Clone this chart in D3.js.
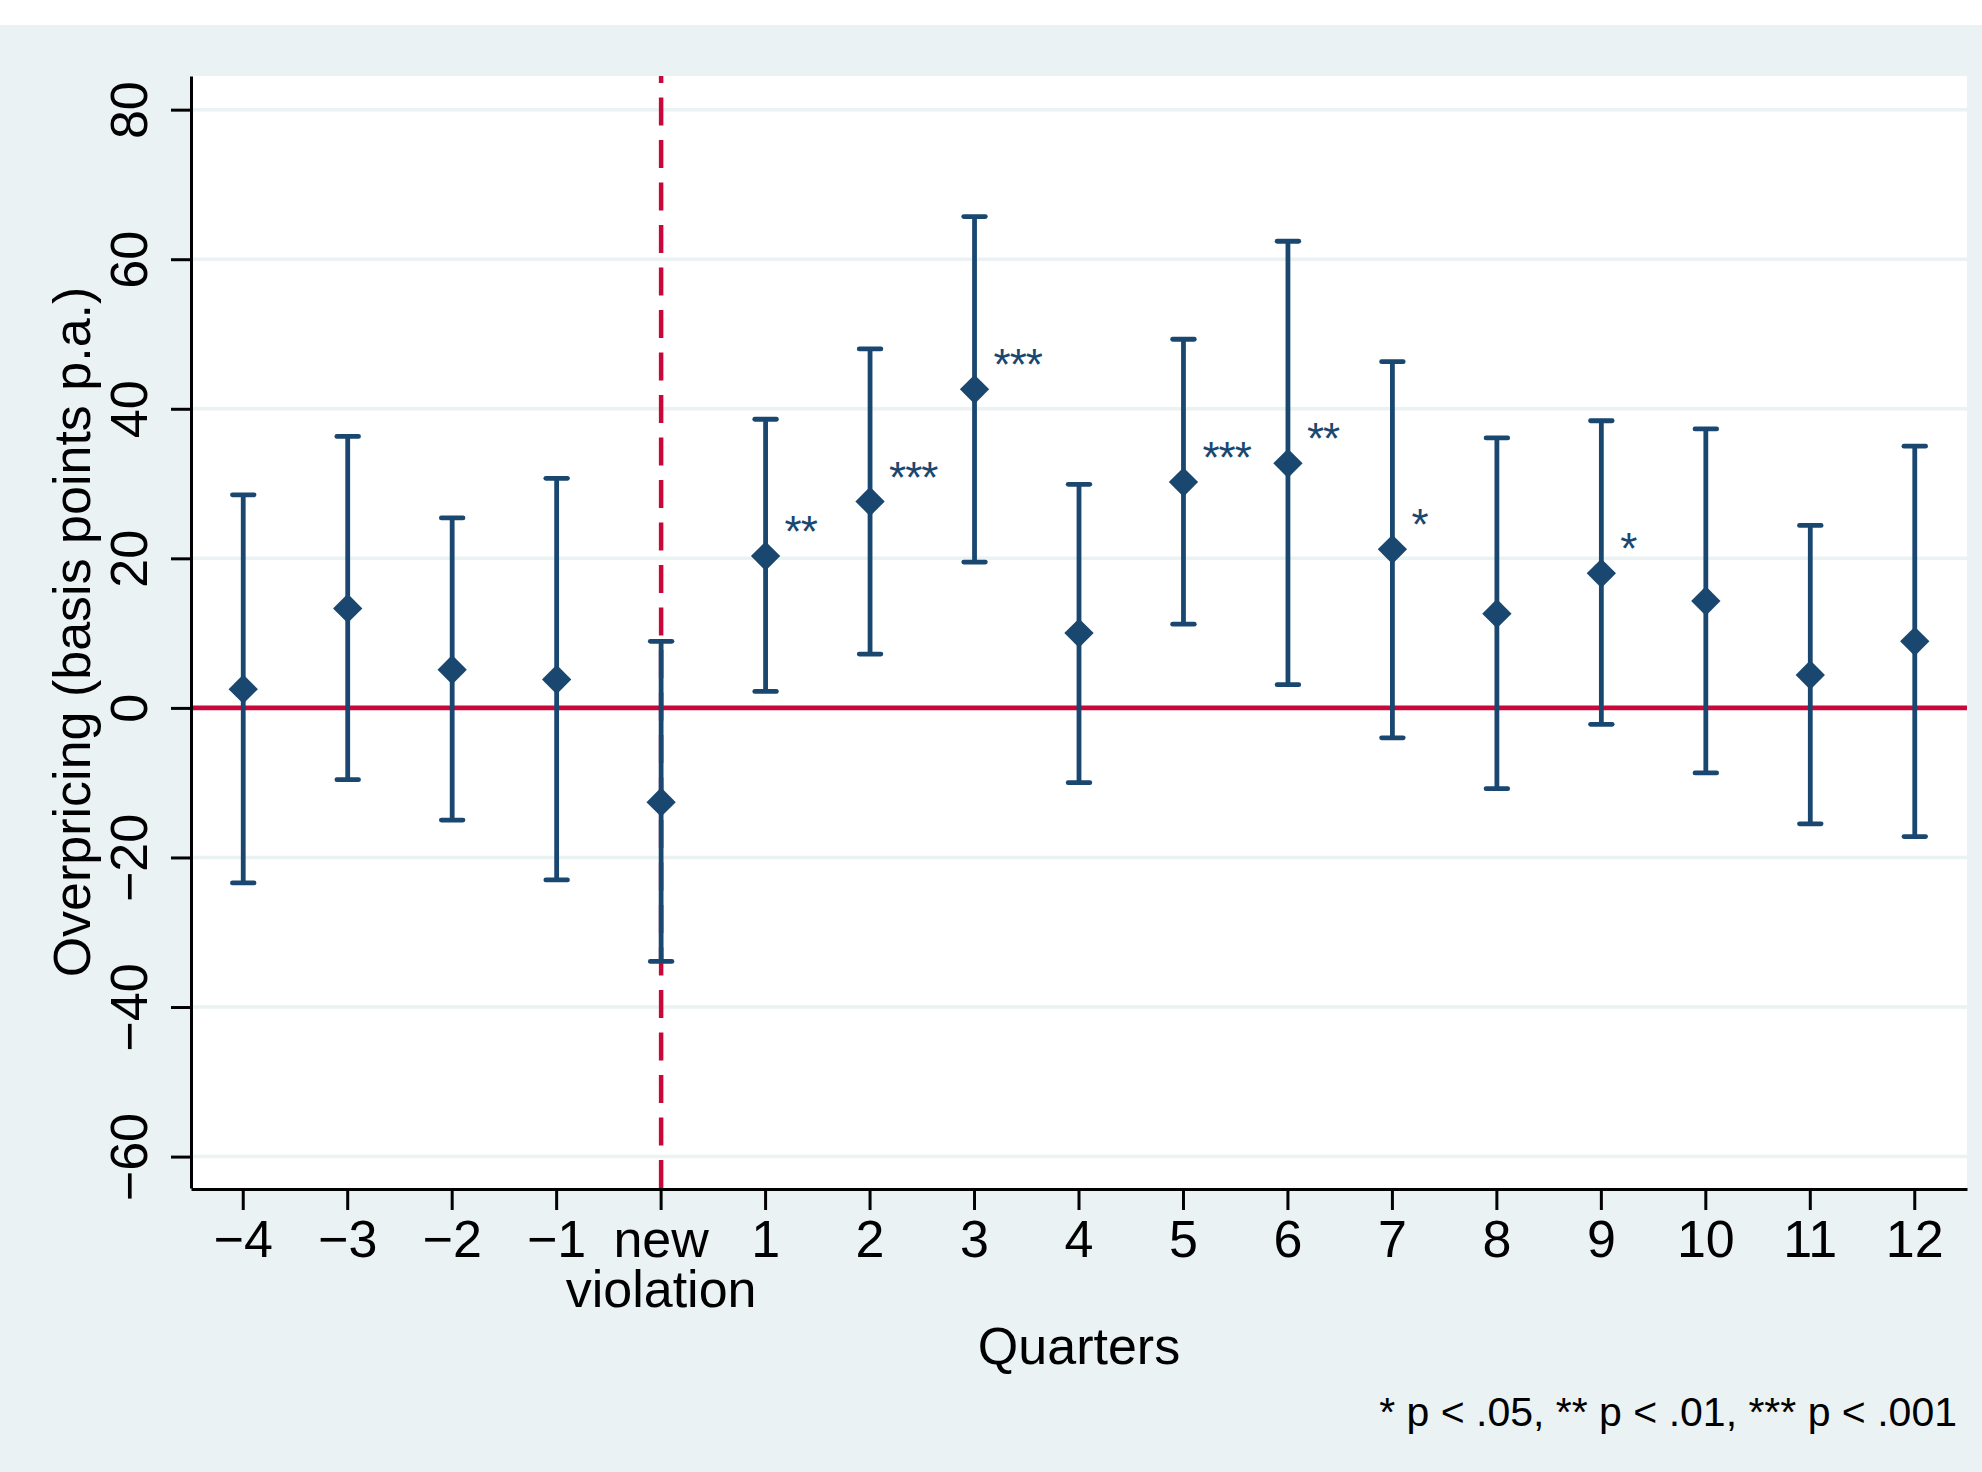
<!DOCTYPE html>
<html>
<head>
<meta charset="utf-8">
<script src="https://cdn.jsdelivr.net/npm/d3@7"></script>
<style>
  body { margin: 0; background: #fff; }
  svg { display: block; }
  text { font-family: "Liberation Sans", Arial, Helvetica, sans-serif; }
</style>
</head>
<body>
<svg id="chart"></svg>
<script>
// quarters relative to the new violation
const quarters = ["−4", "−3", "−2", "−1", "new\nviolation", "1", "2", "3", "4", "5", "6", "7", "8", "9", "10", "11", "12"];
const estimates = [2.5, 13.3, 5.1, 3.8, -12.6, 20.3, 27.6, 42.6, 10.0, 30.2, 32.7, 21.2, 12.6, 18.0, 14.3, 4.4, 8.9];
const ciLower = [-23.4, -9.6, -15.0, -23.0, -33.9, 2.2, 7.2, 19.5, -10.0, 11.2, 3.1, -4.0, -10.8, -2.2, -8.7, -15.5, -17.2];
const ciUpper = [28.5, 36.3, 25.4, 30.7, 8.9, 38.6, 48.0, 65.7, 29.9, 49.3, 62.4, 46.3, 36.1, 38.4, 37.3, 24.4, 35.0];
const stars = ["", "", "", "", "", "**", "***", "***", "", "***", "**", "*", "", "*", "", "", ""];
const yTicks = [-60, -40, -20, 0, 20, 40, 60, 80];
const eventQuarter = "new\nviolation";

const width = 1982;
const height = 1472;
const marginTop = 76;
const marginRight = 15;
const marginBottom = 284;
const marginLeft = 191;

const navy = "#1a476f";
const red = "#c8083a";
const bg = "#eaf2f3";
const fontSize = 52;

const svg = d3.select("#chart")
  .attr("width", width)
  .attr("height", height);

// white strip on top, graph region below
svg.append("rect").attr("width", width).attr("height", 25).attr("fill", "#fff");
svg.append("rect").attr("y", 25).attr("width", width).attr("height", height - 25).attr("fill", bg);
svg.append("rect")
  .attr("x", marginLeft).attr("y", marginTop)
  .attr("width", width - marginRight - marginLeft)
  .attr("height", height - marginBottom - marginTop)
  .attr("fill", "#fff");

const rows = quarters.map((q, i) => ({
  q, est: estimates[i], lo: ciLower[i], hi: ciUpper[i], star: stars[i]
}));

const x = d3.scaleBand()
  .domain(quarters)
  .range([marginLeft, width - marginRight]);
const cx = q => x(q) + x.bandwidth() / 2;

const y = d3.scaleLinear()
  .domain([-64.2, 84.5])
  .range([height - marginBottom, marginTop]);

// grid lines
svg.append("g")
  .selectAll("line")
  .data(yTicks)
  .join("line")
  .attr("x1", marginLeft).attr("x2", width - marginRight)
  .attr("y1", d => y(d)).attr("y2", d => y(d))
  .attr("stroke", bg)
  .attr("stroke-width", 3.5);

// reference lines
svg.append("line")
  .attr("x1", marginLeft).attr("x2", width - marginRight)
  .attr("y1", y(0)).attr("y2", y(0))
  .attr("stroke", red)
  .attr("stroke-width", 4.8);

svg.append("line")
  .attr("x1", cx(eventQuarter)).attr("x2", cx(eventQuarter))
  .attr("y1", height - marginBottom).attr("y2", marginTop)
  .attr("stroke", red)
  .attr("stroke-width", 4.5)
  .attr("stroke-dasharray", "28,14.5");

// axes
const fmt = d => d < 0 ? "−" + Math.abs(d) : String(d);

const yAxis = svg.append("g")
  .attr("transform", `translate(${marginLeft},0)`)
  .call(d3.axisLeft(y).tickValues(yTicks).tickFormat(fmt).tickSize(20).tickSizeOuter(0));
yAxis.select(".domain").attr("stroke", "#000").attr("stroke-width", 3);
yAxis.selectAll(".tick line").attr("stroke", "#000").attr("stroke-width", 3);
yAxis.selectAll(".tick text")
  .attr("x", null).attr("dy", null)
  .attr("transform", "translate(-44,0) rotate(-90)")
  .attr("text-anchor", "middle")
  .attr("fill", "#000")
  .style("font-size", fontSize + "px");

const xAxis = svg.append("g")
  .attr("transform", `translate(0,${height - marginBottom + 1})`)
  .call(d3.axisBottom(x).tickSize(21).tickSizeOuter(0));
xAxis.select(".domain").attr("stroke", "#000").attr("stroke-width", 3);
xAxis.selectAll(".tick line").attr("stroke", "#000").attr("stroke-width", 3);
xAxis.selectAll(".tick text")
  .attr("y", 68).attr("dy", null)
  .attr("fill", "#000")
  .style("font-size", fontSize + "px")
  .each(function (d) {
    const t = d3.select(this).text(null);
    d.split("\n").forEach((part, k) => {
      t.append("tspan").attr("x", 0).attr("dy", k === 0 ? 0 : 50).text(part);
    });
  });

// confidence intervals
const bars = svg.append("g")
  .attr("stroke", navy)
  .attr("stroke-width", 4.8);

bars.selectAll(".ci")
  .data(rows)
  .join("line")
  .attr("class", "ci")
  .attr("x1", d => cx(d.q)).attr("x2", d => cx(d.q))
  .attr("y1", d => y(d.lo)).attr("y2", d => y(d.hi));

bars.selectAll(".cap")
  .data(rows.flatMap(d => [{ q: d.q, v: d.lo }, { q: d.q, v: d.hi }]))
  .join("line")
  .attr("class", "cap")
  .attr("stroke-linecap", "round")
  .attr("x1", d => cx(d.q) - 10.8).attr("x2", d => cx(d.q) + 10.8)
  .attr("y1", d => y(d.v)).attr("y2", d => y(d.v));

// point estimates
svg.append("g")
  .selectAll("path")
  .data(rows)
  .join("path")
  .attr("d", d3.symbol(d3.symbolSquare, 430))
  .attr("transform", d => `translate(${cx(d.q)},${y(d.est)}) rotate(45)`)
  .attr("fill", navy);

// significance stars
svg.append("g")
  .selectAll("text")
  .data(rows.filter(d => d.star))
  .join("text")
  .attr("x", d => cx(d.q) + 19)
  .attr("y", d => y(d.est) - 9)
  .attr("fill", navy)
  .style("font-size", "44px")
  .style("letter-spacing", "-1px")
  .text(d => d.star);

// titles and note
svg.append("text")
  .attr("transform", `translate(90,${(marginTop + height - marginBottom) / 2}) rotate(-90)`)
  .attr("text-anchor", "middle")
  .style("font-size", fontSize + "px")
  .text("Overpricing (basis points p.a.)");

svg.append("text")
  .attr("x", (marginLeft + width - marginRight) / 2)
  .attr("y", 1364)
  .attr("text-anchor", "middle")
  .style("font-size", fontSize + "px")
  .text("Quarters");

svg.append("text")
  .attr("x", 1957)
  .attr("y", 1426)
  .attr("text-anchor", "end")
  .style("font-size", "41px")
  .text("* p < .05, ** p < .01, *** p < .001");
</script>
</body>
</html>
